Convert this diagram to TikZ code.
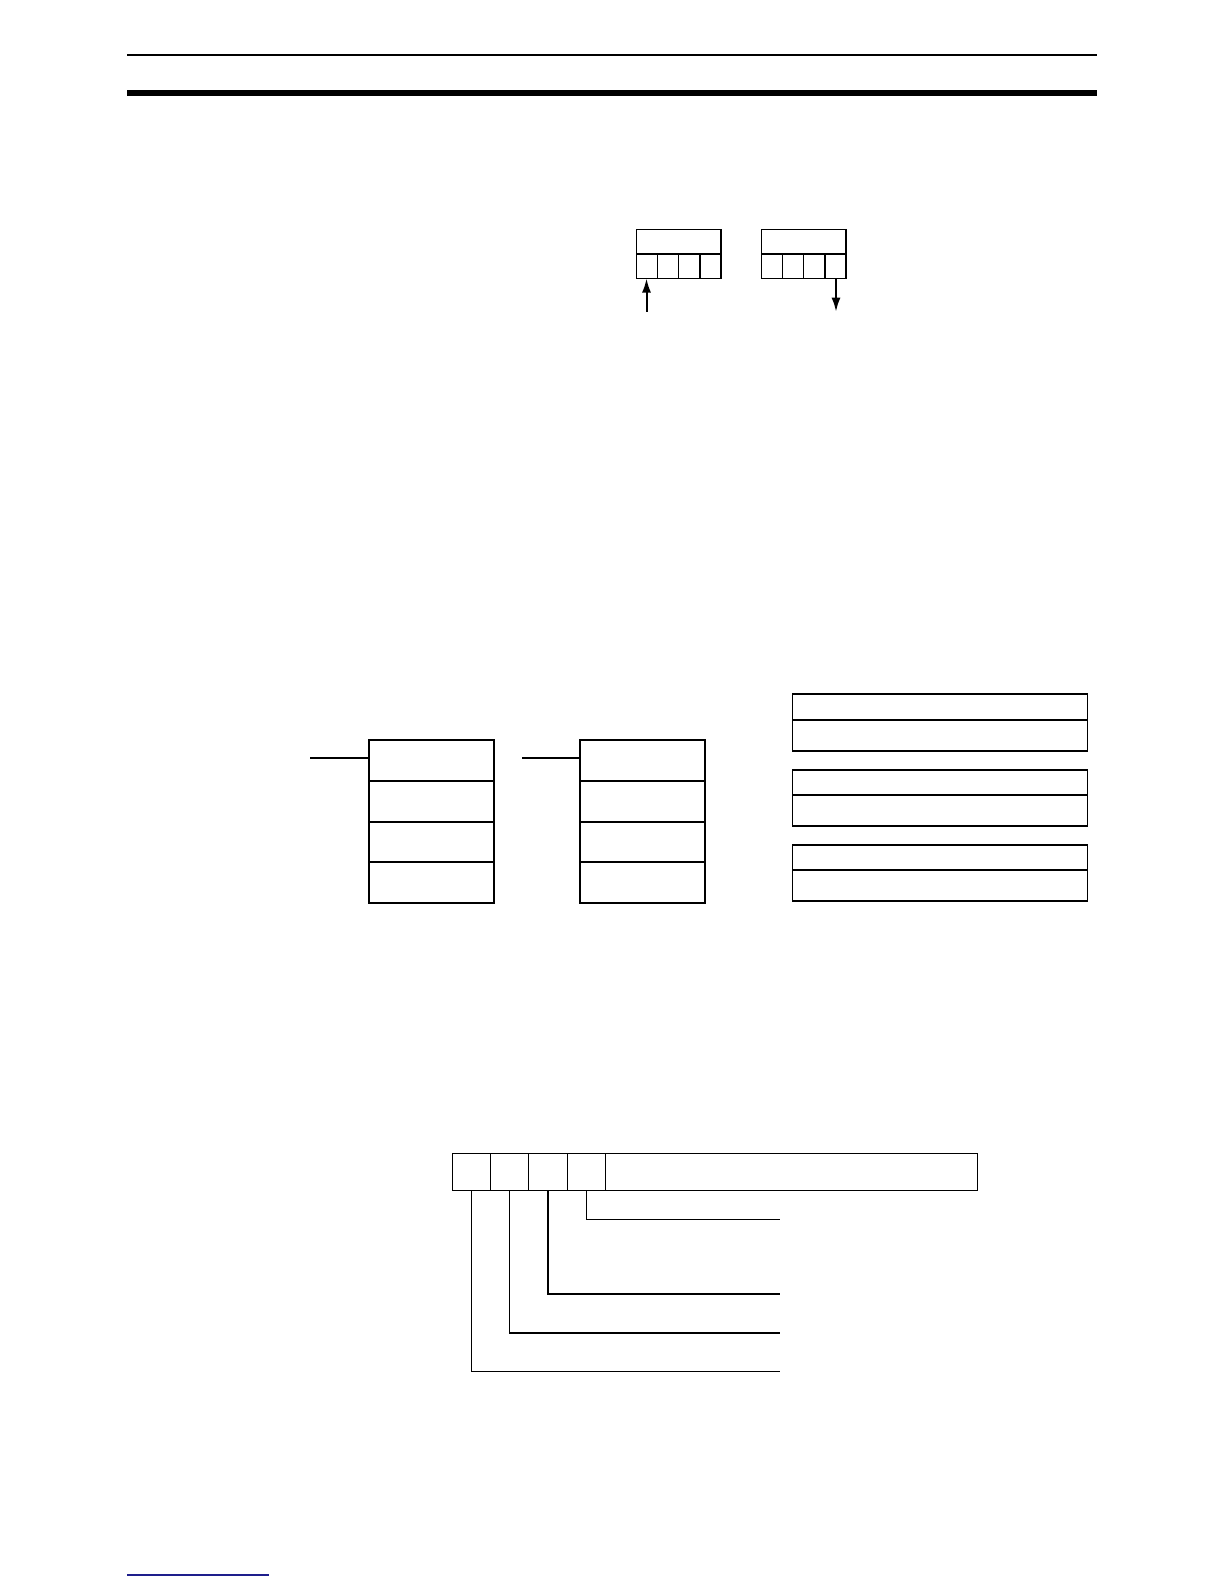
\documentclass[tikz,border=0pt]{standalone}
\usetikzlibrary{arrows.meta}
\definecolor{linkblue}{RGB}{30,30,140}

\begin{document}
\begin{tikzpicture}[x=0.5pt, y=-0.5pt, line join=miter]
\useasboundingbox (0,0) rectangle (1224,1584);
% page rules
\coordinate (RL) at (127,55);
\coordinate (RR) at (1097,55);
\draw[line width=0.75pt] (RL) -- (RR);
\fill (127,90) rectangle (1097,95.7);
\coordinate (FL) at (127,1575);
\coordinate (FR) at (269,1575);
\draw[line width=0.8pt, draw=linkblue] (FL) -- (FR);

% word boxes
\coordinate (WA) at (636.7,229.3);
\coordinate (WB) at (761.7,229.3);
\foreach \w in {WA,WB} {
\begin{scope}[shift={(\w)}, line width=0.6pt]
\draw (0,0) rectangle (84.3,49);
\draw (0,24.7) -- (84.3,24.7);
\foreach \i in {1,2,3}
\draw (\i*21.08,24.7) -- (\i*21.08,49);
\end{scope}
}
% in and out
\coordinate (inS) at (646.5,311.7);
\coordinate (inE) at (646.5,278.5);
\coordinate (outS) at (836,278.5);
\coordinate (outE) at (836,311.7);
\draw[line width=1pt, -{Latex[length=7pt,width=4.5pt]}] (inS) -- (inE);
\draw[line width=1pt, -{Latex[length=7pt,width=4.5pt]}] (outS) -- (outE);

% instruction blocks
\begin{scope}[line width=0.85pt]
\coordinate (SA) at (369,739.7);
\coordinate (SB) at (580,739.7);
\foreach \s in {SA,SB} {
\draw ([shift={(0,0)}]\s) rectangle ([shift={(125,163)}]\s);
\foreach \r in {41,82.3,122.3}
\draw ([shift={(0,\r)}]\s) -- ([shift={(125,\r)}]\s);
}
\coordinate (LA) at (310.4,758);
\coordinate (LB) at (522,758);
\draw (LA) -- (LA-|SA);
\draw (LB) -- (LB-|SB);

% operand boxes
\foreach \t in {694.3,769.7,844.7} {
\draw (792.5,\t) rectangle (1087.4,\t+56.4);
\draw (792.5,\t+25.4) -- (1087.4,\t+25.4);
}
\end{scope}

% control word
\begin{scope}[line width=0.6pt]
\draw (452.5,1153.3) rectangle (977.5,1190.3);
\foreach \x in {490.7,528.6,567.5,605.4}
\draw (\x,1153.3) -- (\x,1190.3);
% leaders
\foreach \n/\x/\y in {1/471.6/1371.3, 2/509.5/1333, 3/548/1294, 4/586.5/1219.3} {
\coordinate (C\n) at (\x,1190.3);
\coordinate (E\n) at (780,\y);
\draw (C\n) |- (E\n);
}
\end{scope}

\end{tikzpicture}
\end{document}
